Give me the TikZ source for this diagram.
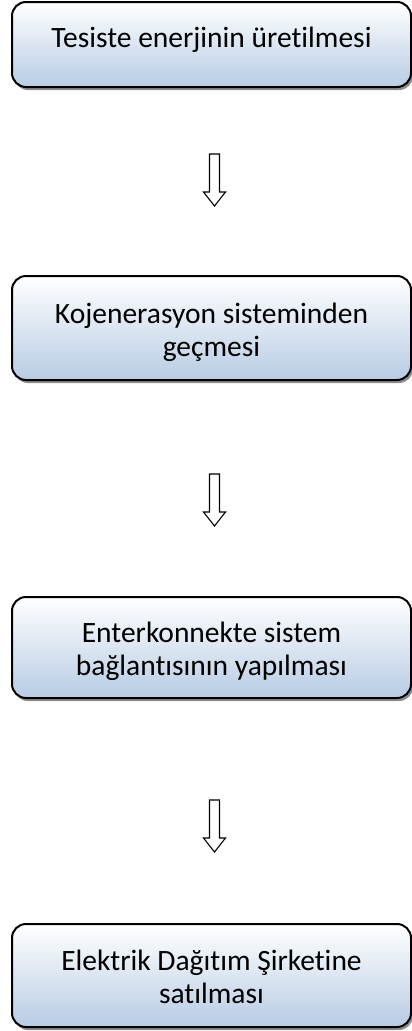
\documentclass[tikz,border=0pt]{standalone}
\usepackage{fontspec}
\setmainfont{Carlito}[Ligatures={NoCommon}]
\usetikzlibrary{shadows}
\definecolor{boxblue}{RGB}{184,204,228}
\definecolor{shadowgray}{RGB}{140,140,140}
\begin{document}
\begin{tikzpicture}[x=1pt,y=1pt,
  stepbox/.style={draw=black, line width=2pt, rounded corners=14pt,
    top color=white, bottom color=boxblue, minimum width=399pt,
    align=center, inner sep=0pt, font=\fontsize{29.5}{33}\selectfont,
    text depth=6pt,
    drop shadow={shadow xshift=2pt, shadow yshift=-3pt, fill=shadowgray, opacity=1}},
  darrow/.pic={\draw[black, line width=1.1pt, fill=white, line join=miter]
    (-5,0) -- (5,0) -- (5,-38) -- (11,-38) -- (0,-52) -- (-11,-38) -- (-5,-38) -- cycle;}
]
\useasboundingbox (0,0) rectangle (412,-1031);
\node[stepbox, minimum height=85pt, text height=11pt] (b1) at (211.5,-44.5) {Tesiste enerjinin üretilmesi};
\node[stepbox, minimum height=104pt, text height=62pt] (b2) at (211.5,-328) {Kojenerasyon sisteminden\\geçmesi};
\node[stepbox, minimum height=101pt, text height=61pt] (b3) at (211.5,-647.5) {Enterkonnekte sistem\\bağlantısının yapılması};
\node[stepbox, minimum height=103pt, text height=61pt] (b4) at (211.5,-975.5) {Elektrik Dağıtım Şirketine\\satılması};
\pic at (214.5,-154) {darrow};
\pic at (214.5,-474) {darrow};
\pic at (214.5,-800) {darrow};
\end{tikzpicture}
\end{document}
